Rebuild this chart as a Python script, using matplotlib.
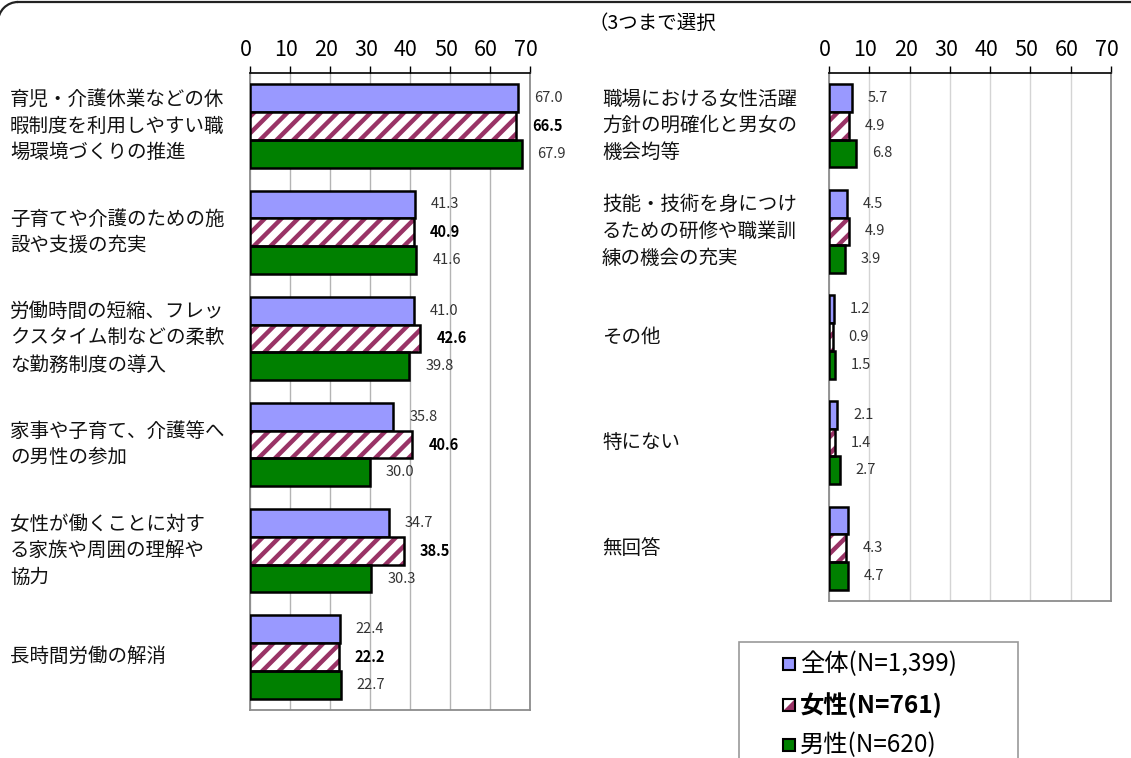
import numpy as np
import matplotlib
matplotlib.use("Agg")
import matplotlib.pyplot as plt
from matplotlib.patches import Rectangle, Polygon, Arc
from matplotlib.lines import Line2D
from matplotlib.transforms import blended_transform_factory, ScaledTranslation

plt.rcParams['font.family'] = ['Noto Sans CJK JP', 'DejaVu Sans']
plt.rcParams['hatch.linewidth'] = 3.2

# data
left_cats = ["育児・介護休業などの休\n暇制度を利用しやすい職\n場環境づくりの推進",
             "子育てや介護のための施\n設や支援の充実",
             "労働時間の短縮、フレッ\nクスタイム制などの柔軟\nな勤務制度の導入",
             "家事や子育て、介護等へ\nの男性の参加",
             "女性が働くことに対す\nる家族や周囲の理解や\n協力",
             "長時間労働の解消"]
left_all = [67.0, 41.3, 41.0, 35.8, 34.7, 22.4]
left_female = [66.5, 40.9, 42.6, 40.6, 38.5, 22.2]
left_male = [67.9, 41.6, 39.8, 30.0, 30.3, 22.7]

right_cats = ["職場における女性活躍\n方針の明確化と男女の\n機会均等",
              "技能・技術を身につけ\nるための研修や職業訓\n練の機会の充実",
              "その他", "特にない", "無回答"]
right_all = [5.7, 4.5, 1.2, 2.1, 4.6]
right_female = [4.9, 4.9, 0.9, 1.4, 4.3]
right_male = [6.8, 3.9, 1.5, 2.7, 4.7]
right_all_shown = [True, True, True, True, False]  # 無回答の全体は数値なし

series_names = ["全体(N=1,399)", "女性(N=761)", "男性(N=620)"]
ticks = [0, 10, 20, 30, 40, 50, 60, 70]

c_all = "#9999ff"
c_female = "#993366"
c_male = "#008000"

W, H = 1131, 758
fig = plt.figure(figsize=(W / 100, H / 100), dpi=100)

ax1 = fig.add_axes([250 / W, 48 / H, 280 / W, 637 / H])
ax2 = fig.add_axes([829 / W, 157 / H, 282 / W, 528 / H])


def draw_panel(ax, cats, v_all, v_fem, v_male, shown, grid_color, label_x, bold_fem):
    n = len(cats)
    y = np.arange(n)
    h = 0.262
    ax.barh(y - h, v_all, height=h, color=c_all, edgecolor="black", linewidth=1.8, zorder=3)
    ax.barh(y, v_fem, height=h, color="white", edgecolor=c_female, hatch="//", linewidth=0, zorder=3)
    ax.barh(y, v_fem, height=h, fill=False, edgecolor="black", linewidth=1.8, zorder=4)
    ax.barh(y + h, v_male, height=h, color=c_male, edgecolor="black", linewidth=1.8, zorder=3)

    for i in range(n):
        if shown[i]:
            ax.annotate(f"{v_all[i]:.1f}", (v_all[i], y[i] - h), xytext=(11.5, 0),
                        textcoords="offset points", va="center", fontsize=10.5, color="#333333")
        if bold_fem:
            ax.annotate(f"{v_fem[i]:.1f}", (v_fem[i], y[i]), xytext=(11.5, 0),
                        textcoords="offset points", va="center", fontsize=10.5,
                        fontweight="bold", color="black")
        else:
            ax.annotate(f"{v_fem[i]:.1f}", (v_fem[i], y[i]), xytext=(11.5, 0),
                        textcoords="offset points", va="center", fontsize=10.5, color="#333333")
        ax.annotate(f"{v_male[i]:.1f}", (v_male[i], y[i] + h), xytext=(11.5, 0),
                    textcoords="offset points", va="center", fontsize=10.5, color="#333333")

    tr = blended_transform_factory(fig.transFigure, ax.transData)
    for i, c in enumerate(cats):
        ax.text(label_x / W, y[i], c, transform=tr, ha="left", va="center",
                fontsize=14, linespacing=1.35, color="#111111")

    ax.set_xlim(0, 70)
    ax.set_ylim(n - 0.5, -0.5)
    ax.set_xticks(ticks)
    ax.set_yticks([])
    ax.xaxis.tick_top()
    ax.tick_params(axis="x", direction="out", length=5, width=1, pad=4, labelsize=15.5)
    for lbl in ax.get_xticklabels():
        lbl.set_transform(lbl.get_transform() + ScaledTranslation(-4 / 100, 0, fig.dpi_scale_trans))
    ax.grid(axis="x", color=grid_color, linewidth=1, zorder=0)
    ax.set_axisbelow(True)
    ax.spines["top"].set_color("black")
    ax.spines["top"].set_linewidth(1.2)
    for s in ["left", "bottom", "right"]:
        ax.spines[s].set_color("#8c8c8c")
        ax.spines[s].set_linewidth(1.3)


draw_panel(ax1, left_cats, left_all, left_female, left_male, [True] * 6, "#b4b4b4", 10, True)
draw_panel(ax2, right_cats, right_all, right_female, right_male, right_all_shown, "#d4d4d4", 602, False)

fig.text(652 / W, 1 - 23 / H, "（3つまで選択", ha="center", va="center", fontsize=14)

# legend (drawn by hand to match the boxed layout)
fig.patches.append(Rectangle((739 / W, -0.1), 279 / W, 0.1 + 116 / H, transform=fig.transFigure,
                             fill=False, edgecolor="#999999", linewidth=1.2))
leg_y = [664, 705, 745]
leg_colors = [c_all, "white", c_male]
for k, name in enumerate(series_names):
    yc = 1 - leg_y[k] / H
    x0, s = 783 / W, 12 / W
    sy = 12 / H
    fig.patches.append(Rectangle((x0, yc - sy / 2), s, sy, transform=fig.transFigure,
                                 facecolor=leg_colors[k], edgecolor="none", zorder=4))
    if k == 1:
        fig.patches.append(Polygon([(x0 + s, yc - sy / 2), (x0 + s, yc + sy / 2), (x0, yc - sy / 2)],
                                   closed=True, transform=fig.transFigure, facecolor=c_female,
                                   edgecolor="none", zorder=5))
    fig.patches.append(Rectangle((x0, yc - sy / 2), s, sy, transform=fig.transFigure,
                                 fill=False, edgecolor="black", linewidth=1.5, zorder=6))
    fig.text(800 / W, yc, name, ha="left", va="center", fontsize=17.5,
             fontweight="bold" if k == 1 else "normal")

# outer frame: top edge with a rounded corner at the upper left
fig.lines.append(Line2D([18 / W, 1.0], [1 - 2 / H, 1 - 2 / H], transform=fig.transFigure,
                        color="#222222", linewidth=1.6))
fig.patches.append(Arc((0.18, (H - 22) / 100), 0.4, 0.4, theta1=90, theta2=180,
                       transform=fig.dpi_scale_trans, color="#222222", linewidth=1.6))

fig.savefig("out.png", dpi=100)
